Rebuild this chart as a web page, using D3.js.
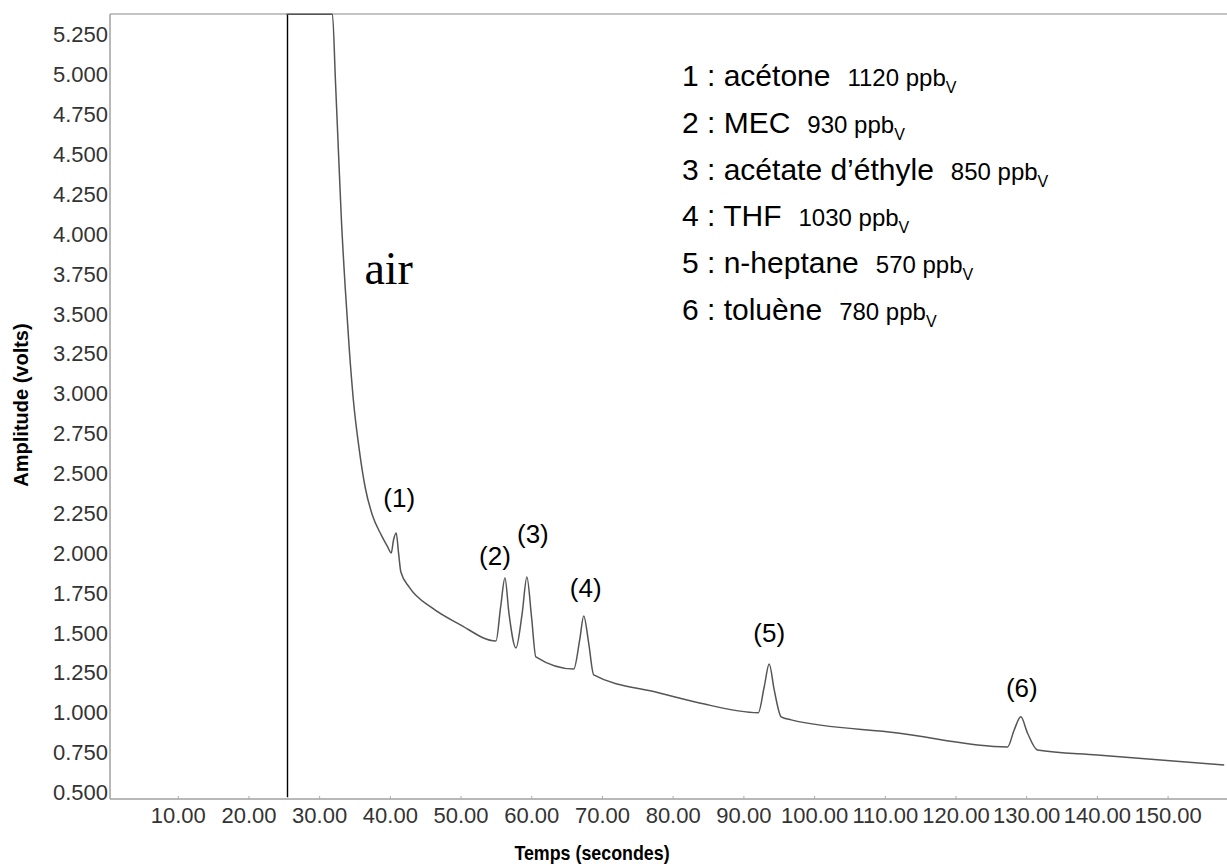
<!DOCTYPE html>
<html>
<head>
<meta charset="utf-8">
<script src="https://cdn.jsdelivr.net/npm/d3@7"></script>
<style>
  body { margin: 0; background: #fff; }
  svg { display: block; font-family: Arial, "Liberation Sans", sans-serif; }
</style>
</head>
<body>
<svg id="chart" width="1227" height="866"></svg>
<script>
// chromatogram trace (time in s, amplitude in V)
const traceTimes = [25.39, 31.88, 32.30, 32.72, 33.15, 33.71, 34.27, 34.84, 35.68, 36.53, 37.52, 38.79, 39.63,
  40.20, 40.52, 40.90, 41.23, 41.56, 42.74, 45.98, 49.79, 55.01, 55.67, 56.28, 56.84, 57.83, 58.72, 59.38,
  60.04, 60.65, 66.01, 66.85, 67.42, 68.12, 68.83, 78.00, 83.64, 92.10, 92.95, 93.65, 94.36, 95.35, 96.76,
  111.85, 127.36, 128.30, 129.24, 130.18, 131.59, 140.06, 158.00];
const traceVolts = [5.38, 5.38, 4.967, 4.528, 4.089, 3.650, 3.274, 2.961, 2.647, 2.409, 2.240, 2.114, 2.045,
  2.002, 2.083, 2.127, 2.002, 1.882, 1.788, 1.657, 1.556, 1.450, 1.663, 1.845, 1.625, 1.406, 1.625, 1.851,
  1.600, 1.350, 1.274, 1.456, 1.607, 1.437, 1.237, 1.125, 1.063, 1.000, 1.163, 1.306, 1.143, 0.974, 0.955,
  0.873, 0.785, 0.892, 0.974, 0.873, 0.766, 0.735, 0.672];

// injection spike (vertical jump to saturation)
const injectTime = 25.39;
const injectVolts = [0.47, 5.38];

// peaks
const peakNames = ["(1)", "(2)", "(3)", "(4)", "(5)", "(6)"];
const peakTimes = [40.90, 56.28, 59.38, 67.42, 93.65, 129.24];
const peakVolts = [2.127, 1.845, 1.851, 1.607, 1.306, 0.974];

// legend
const compounds = ["acétone", "MEC", "acétate d\u2019éthyle", "THF", "n-heptane", "toluène"];
const concentrations = [1120, 930, 850, 1030, 570, 780];

// axes
const yTicks = [0.5, 0.75, 1, 1.25, 1.5, 1.75, 2, 2.25, 2.5, 2.75, 3, 3.25, 3.5, 3.75, 4, 4.25, 4.5, 4.75, 5, 5.25];
const xTicks = [10, 20, 30, 40, 50, 60, 70, 80, 90, 100, 110, 120, 130, 140, 150];

const W = 1227, H = 866;
const plot = { left: 110, right: 1227, top: 14, bottom: 799 };

const svg = d3.select("#chart");

const x = d3.scaleLinear().domain([0.42, 158.4]).range([plot.left, plot.right]);
const y = d3.scaleLinear().domain([0.459, 5.381]).range([plot.bottom, plot.top]);

// frame
svg.append("line")
  .attr("x1", plot.left).attr("x2", plot.right)
  .attr("y1", plot.top).attr("y2", plot.top)
  .attr("stroke", "#b0b0b0").attr("stroke-width", 1.5);
svg.append("line")
  .attr("x1", plot.left).attr("x2", plot.right)
  .attr("y1", plot.bottom).attr("y2", plot.bottom)
  .attr("stroke", "#a0a0a0").attr("stroke-width", 1.5);
svg.append("line")
  .attr("x1", plot.left).attr("x2", plot.left)
  .attr("y1", plot.top).attr("y2", plot.bottom)
  .attr("stroke", "#a0a0a0").attr("stroke-width", 1.5);

// y axis
let yAxis = d3.axisLeft(y)
  .tickValues(yTicks)
  .tickFormat(d3.format(".3f"))
  .tickSize(0)
  .tickPadding(2);
let gy = svg.append("g")
  .attr("transform", "translate(" + plot.left + ",0)")
  .call(yAxis);
gy.select(".domain").remove();
gy.selectAll("text")
  .attr("fill", "#333")
  .style("font-size", "22px")
  .style("font-family", "Arial, 'Liberation Sans', sans-serif");

// x axis
let xAxis = d3.axisBottom(x)
  .tickValues(xTicks)
  .tickFormat(d3.format(".2f"))
  .tickSizeInner(-3)
  .tickSizeOuter(0)
  .tickPadding(8);
let gx = svg.append("g")
  .attr("transform", "translate(0," + plot.bottom + ")")
  .call(xAxis);
gx.select(".domain").remove();
gx.selectAll("line").attr("stroke", "#aaa");
gx.selectAll("text")
  .attr("fill", "#333")
  .style("font-size", "22px")
  .style("font-family", "Arial, 'Liberation Sans', sans-serif");

// axis titles
svg.append("text")
  .attr("transform", "translate(28,405) rotate(-90)")
  .attr("text-anchor", "middle")
  .style("font-size", "20px")
  .style("font-weight", "bold")
  .text("Amplitude (volts)");
svg.append("text")
  .attr("transform", "translate(592,860) scale(0.85,1)")
  .attr("text-anchor", "middle")
  .style("font-size", "21px")
  .style("font-weight", "bold")
  .text("Temps (secondes)");

// injection spike
svg.append("line")
  .attr("x1", Math.round(x(injectTime)) + 0.5).attr("x2", Math.round(x(injectTime)) + 0.5)
  .attr("y1", y(injectVolts[0])).attr("y2", y(injectVolts[1]))
  .attr("stroke", "#000").attr("stroke-width", 1.4);

// trace
let points = traceTimes.map((t, i) => [t, traceVolts[i]]);
let line = d3.line()
  .x(d => x(d[0]))
  .y(d => y(d[1]))
  .curve(d3.curveMonotoneX);
svg.append("path")
  .datum(points)
  .attr("d", line)
  .attr("fill", "none")
  .attr("stroke", "#555")
  .attr("stroke-width", 1.5);

// "air" label next to the solvent front
svg.append("text")
  .attr("x", x(36.4)).attr("y", y(3.69))
  .style("font-family", "'Liberation Serif', 'Times New Roman', serif")
  .style("font-size", "46px")
  .text("air");

// peak labels (pixel nudges so they sit like the original)
const labelNudge = [[3, -26], [-10, -13], [6, -34], [2, -19], [0, -22], [1, -20]];
svg.selectAll(".peak")
  .data(peakNames)
  .enter()
  .append("text")
  .attr("class", "peak")
  .attr("x", (d, i) => x(peakTimes[i]) + labelNudge[i][0])
  .attr("y", (d, i) => y(peakVolts[i]) + labelNudge[i][1])
  .attr("text-anchor", "middle")
  .style("font-size", "26px")
  .text(d => d);

// legend
let legend = svg.append("g").attr("transform", "translate(682,86)");
let rows = legend.selectAll("text")
  .data(compounds)
  .enter()
  .append("text")
  .attr("x", 0)
  .attr("y", (d, i) => i * 46.8);
rows.append("tspan")
  .style("font-size", "30px")
  .text((d, i) => (i + 1) + " : " + d);
rows.append("tspan")
  .attr("dx", 17)
  .style("font-size", "24px")
  .text((d, i) => concentrations[i] + " ppb");
rows.append("tspan")
  .attr("dy", 7)
  .style("font-size", "16px")
  .text("V");
</script>
</body>
</html>
